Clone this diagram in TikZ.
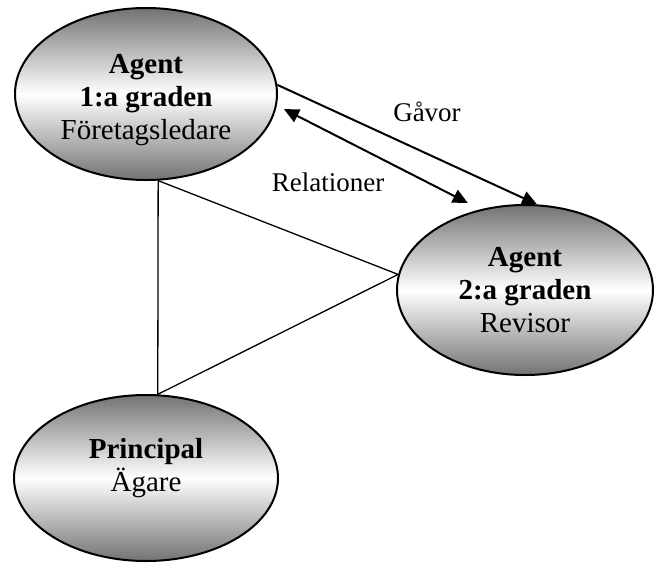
\documentclass[tikz,border=0pt]{standalone}
\usepackage{fontspec}
\setmainfont{Liberation Serif}
\usetikzlibrary{shapes.geometric}
\usetikzlibrary{arrows.meta}

\begin{document}
\begin{tikzpicture}[x=1pt,y=-1pt,
  roll/.style={ellipse,draw,line width=2pt,inner sep=0pt,align=center,
    top color=black!55,bottom color=black!55,middle color=white,
    font=\fontsize{29}{33}\selectfont},
  pil/.style={line width=2pt,-{Triangle[length=15pt,width=14pt]}},
  linje/.style={line width=1.3pt},
  etikett/.style={font=\fontsize{27}{31}\selectfont}]

  \useasboundingbox (0,0) rectangle (654,563);

  % agenter
  \node[roll,minimum width=262pt,minimum height=172pt] (agentett) at (146,94)
    {\rule{0pt}{31pt}\textbf{Agent}\\\textbf{1:a graden}\\Företagsledare};
  \node[roll,minimum width=256pt,minimum height=170pt] (agenttva) at (525,290)
    {\textbf{Agent}\\\textbf{2:a graden}\\Revisor};

  % principal
  \node[roll,minimum width=264pt,minimum height=166pt] (principal) at (146,478)
    {\textbf{Principal}\\Ägare\rule[-27pt]{0pt}{0pt}};

  % triangeln
  \draw[linje] (agentett.-82) -- (principal.82) -- (agenttva.173) -- cycle;

  % pilar
  \draw[pil] (agentett.4) -- (agenttva.82);
  \draw[pil,{Triangle[length=15pt,width=14pt]}-{Triangle[length=15pt,width=14pt]},
    shorten <=8pt,shorten >=14pt] (agentett.-5.5) -- (agenttva.119);

  \node[etikett] (gavor) at (427,112) {Gåvor};
  \node[etikett] (relationer) at (328,182) {Relationer};
\end{tikzpicture}
\end{document}
